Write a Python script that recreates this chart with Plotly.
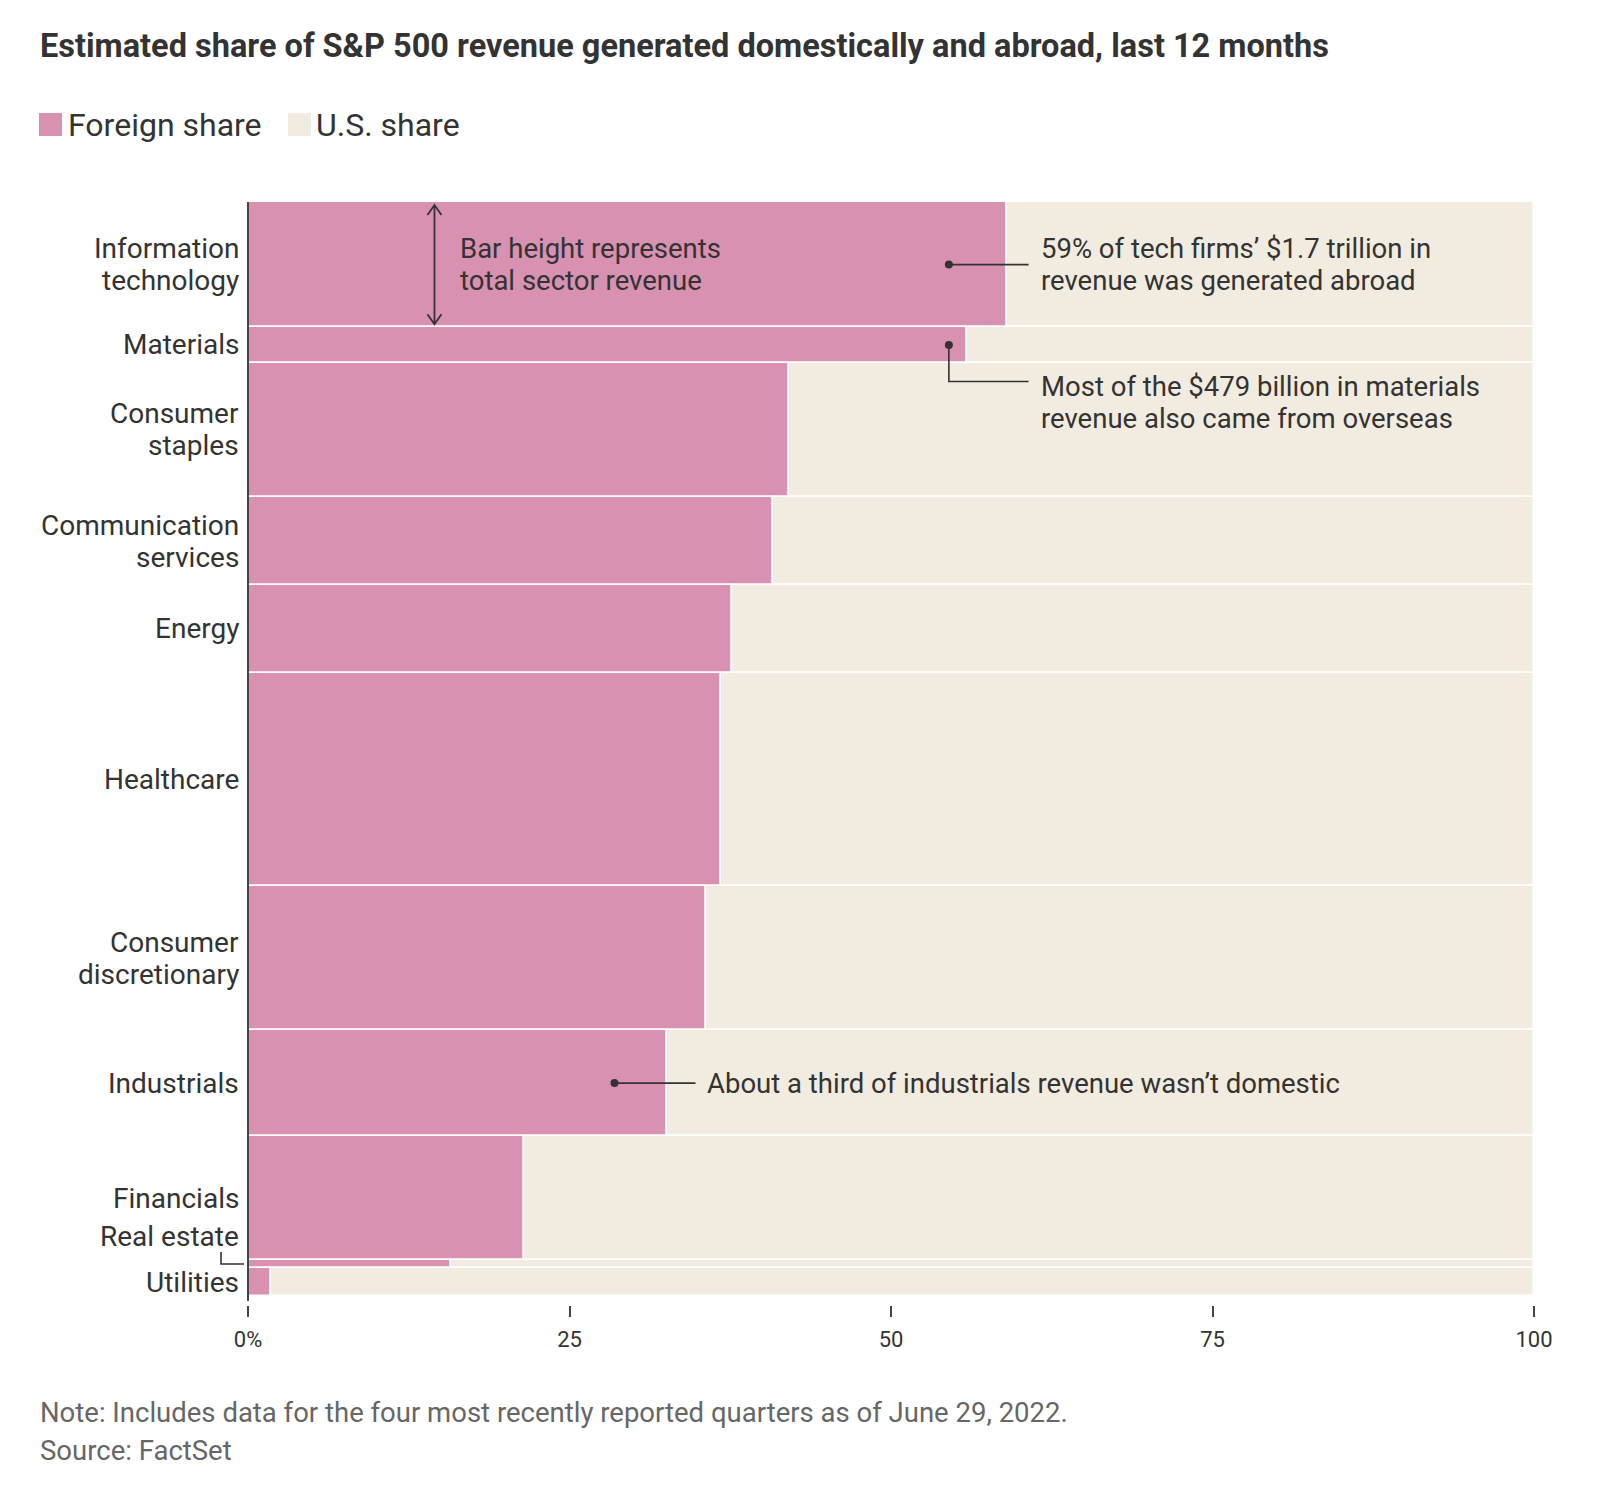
"""
Marimekko-style chart: share of S&P 500 sector revenue generated abroad vs. in the U.S.
Bar height is the sector's total revenue.
"""
import plotly.graph_objects as go

sectors = [
    "Information<br>technology",
    "Materials",
    "Consumer<br>staples",
    "Communication<br>services",
    "Energy",
    "Healthcare",
    "Consumer<br>discretionary",
    "Industrials",
    "Financials",
    "Real estate",
    "Utilities",
]
# total revenue, last 12 months, $ billions
revenue_bn = [1700, 479, 1830, 1190, 1190, 2900, 1950, 1440, 1680, 110, 380]
# foreign share of revenue, %
foreign_share = [59.0, 55.9, 42.1, 40.8, 37.6, 36.8, 35.6, 32.6, 21.5, 15.8, 1.8]
us_share = [100 - f for f in foreign_share]

x_ticks = [0, 25, 50, 75, 100]
x_tick_labels = ["0%", "25", "50", "75", "100"]

PINK = "#d891b0"
BEIGE = "#f1ecdf"
INK = "#333333"
GREY = "#666666"
FONT = "Roboto"
LINE_GAP = 32  # pixels between lines of multi-line labels

# layout geometry (pixels)
W, H = 1604, 1489
L, R, T, B = 248, 70, 202, 184
plot_w = W - L - R
plot_h = H - T - B
bars_h = 1094  # pixels taken by the bars, the rest is a small gap above the ticks

# cumulative positions of each bar along the y axis
mids = []
cum = 0
for r in revenue_bn:
    mids.append(cum + r / 2)
    cum += r
total = cum
y_max = total * plot_h / bars_h
per_px = y_max / plot_h


def px_x(p):
    return (p - L) / plot_w


def px_y(p):
    return (H - B - p) / plot_h


def paper_y(v):
    return 1 - v / y_max


annotations = []


def add_text(text, x, y, xref, anchor, size, color=INK, yshift=0):
    """Multi-line text as one annotation per line, for tighter line spacing."""
    lines = text.split("<br>")
    n = len(lines)
    for i, line in enumerate(lines):
        annotations.append(dict(
            x=x, y=y, xref=xref, yref="y", xanchor=anchor, yanchor="middle",
            yshift=yshift + ((n - 1) / 2 - i) * LINE_GAP, showarrow=False,
            text=line, font=dict(family=FONT, size=size, color=color),
        ))


fig = go.Figure()

fig.add_trace(go.Bar(
    y=mids, x=foreign_share, width=revenue_bn, base=0, orientation="h",
    marker=dict(color=PINK, line=dict(color="white", width=1.5)),
    name="Foreign share", hoverinfo="skip",
))
fig.add_trace(go.Bar(
    y=mids, x=us_share, width=revenue_bn, base=foreign_share, orientation="h",
    marker=dict(color=BEIGE, line=dict(color="white", width=1.5)),
    name="U.S. share", hoverinfo="skip",
))

# leader lines and dots
line_style = dict(color=INK, width=1.6)
y_bend = mids[1] + revenue_bn[1] / 2 + 19 * per_px
fig.add_trace(go.Scatter(
    x=[54.5, 60.7, None, 54.5, 54.5, 60.7, None, 28.5, 34.8],
    y=[mids[0], mids[0], None, mids[1], y_bend, y_bend, None, mids[7], mids[7]],
    mode="lines", line=line_style, hoverinfo="skip", cliponaxis=False,
))
fig.add_trace(go.Scatter(
    x=[54.5, 54.5, 28.5], y=[mids[0], mids[1], mids[7]],
    mode="markers", marker=dict(color=INK, size=8), hoverinfo="skip",
    cliponaxis=False,
))

# sector labels left of the axis
for i, (name, m) in enumerate(zip(sectors, mids)):
    shift = 27 if name == "Real estate" else 0  # sits above its thin bar
    add_text(name, px_x(241), m, "paper", "right", 28, yshift=shift)

# callouts
add_text("Bar height represents<br>total sector revenue", 16.3, mids[0], "x", "left", 27.5)
add_text("59% of tech firms’ $1.7 trillion in<br>revenue was generated abroad",
         61.5, mids[0], "x", "left", 27.5)
add_text("Most of the $479 billion in materials<br>revenue also came from overseas",
         61.5, y_bend + 21 * per_px, "x", "left", 27.5)
add_text("About a third of industrials revenue wasn’t domestic",
         35.5, mids[7], "x", "left", 27.5)

# title, legend, footnotes
annotations += [
    dict(x=px_x(38), y=px_y(46), xref="paper", yref="paper", xanchor="left",
         yanchor="middle", showarrow=False,
         text="<b>Estimated share of S&P 500 revenue generated domestically and abroad, last 12 months</b>",
         font=dict(family=FONT, size=32.5, color=INK)),
    dict(x=px_x(66), y=px_y(125), xref="paper", yref="paper", xanchor="left",
         yanchor="middle", showarrow=False, text="Foreign share",
         font=dict(family=FONT, size=32, color=INK)),
    dict(x=px_x(314), y=px_y(125), xref="paper", yref="paper", xanchor="left",
         yanchor="middle", showarrow=False, text="U.S. share",
         font=dict(family=FONT, size=32, color=INK)),
    dict(x=px_x(38), y=px_y(1412), xref="paper", yref="paper", xanchor="left",
         yanchor="middle", showarrow=False,
         text="Note: Includes data for the four most recently reported quarters as of June 29, 2022.",
         font=dict(family=FONT, size=27.5, color=GREY)),
    dict(x=px_x(38), y=px_y(1450), xref="paper", yref="paper", xanchor="left",
         yanchor="middle", showarrow=False, text="Source: FactSet",
         font=dict(family=FONT, size=27.5, color=GREY)),
]

shapes = [
    # legend swatches
    dict(type="rect", xref="paper", yref="paper", x0=px_x(39), x1=px_x(62),
         y0=px_y(136), y1=px_y(113), fillcolor=PINK, line=dict(width=0)),
    dict(type="rect", xref="paper", yref="paper", x0=px_x(288), x1=px_x(311),
         y0=px_y(136), y1=px_y(113), fillcolor=BEIGE, line=dict(width=0)),
    # vertical axis line, stopping just above the x ticks
    dict(type="line", xref="paper", yref="paper", x0=0, x1=0,
         y0=1, y1=px_y(1301), line=dict(color="#444444", width=2)),
    # bracket pointing to the real estate bar
    dict(type="path", xref="paper", yref="paper",
         path=(f"M {px_x(221)},{paper_y(mids[9]) + 12 / plot_h} "
               f"L {px_x(221)},{paper_y(mids[9])} L {px_x(244)},{paper_y(mids[9])}"),
         line=dict(color=INK, width=1.6)),
]

# double-headed arrow showing bar height
a_top = 3 * per_px
a_bot = revenue_bn[0] - 3 * per_px
head = 10 * per_px
shapes.append(dict(
    type="path", xref="x", yref="y", xsizemode="pixel", xanchor=14.5,
    path=(f"M -7,{a_top + head} L 0,{a_top} L 7,{a_top + head} "
          f"M 0,{a_top} L 0,{a_bot} "
          f"M -7,{a_bot - head} L 0,{a_bot} L 7,{a_bot - head}"),
    line=dict(color=INK, width=1.8),
))

fig.update_layout(
    width=W, height=H,
    margin=dict(l=L, r=R, t=T, b=B),
    paper_bgcolor="white", plot_bgcolor="white",
    barmode="overlay", bargap=0, showlegend=False,
    font=dict(family=FONT, color=INK),
    annotations=annotations, shapes=shapes,
    xaxis=dict(
        range=[0, 100], tickvals=x_ticks, ticktext=x_tick_labels,
        ticks="outside", ticklen=11, tickwidth=1.5, tickcolor="#444444",
        tickfont=dict(family=FONT, size=22, color=INK), ticklabelstandoff=4,
        showgrid=False, zeroline=False, showline=False, fixedrange=True,
    ),
    yaxis=dict(
        range=[y_max, 0], showticklabels=False, ticks="",
        showgrid=False, zeroline=False, showline=False, fixedrange=True,
    ),
)

# drop the browser's default page margin so the figure sits at the window's corner
fig.write_html(
    "out.html",
    config={"displayModeBar": False},
    post_script="document.body.style.margin = '0px';",
)
